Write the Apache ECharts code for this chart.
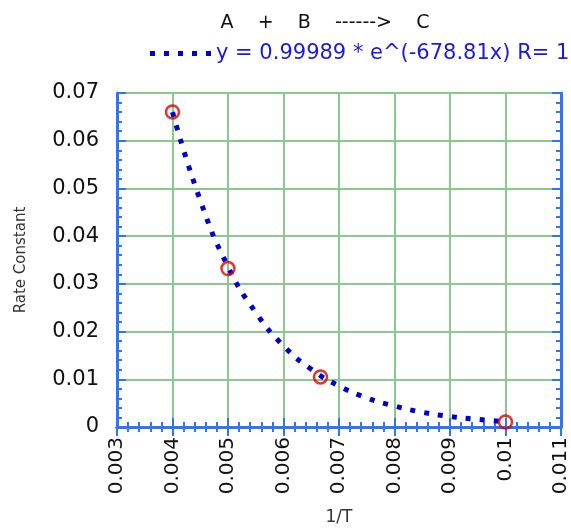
<!DOCTYPE html>
<html>
<head>
<meta charset="utf-8">
<script src="https://cdn.jsdelivr.net/npm/echarts@6/dist/echarts.min.js"></script>
<style>
  html, body { margin: 0; padding: 0; background: #fff; }
  #chart { width: 571px; height: 531px; }
</style>
</head>
<body>
<div id="chart"></div>
<script>
// measured points (1/T, k)
var pointX = [0.004, 0.005, 0.006667, 0.01]
var pointY = [0.066, 0.0332, 0.0105, 0.00105]

// fit curve
var fitX = [0.004, 0.0045, 0.005, 0.0055, 0.006, 0.0065, 0.007, 0.0075, 0.008, 0.0085, 0.009, 0.0095, 0.01]
var fitY = [0.066, 0.0475, 0.0336, 0.024, 0.017, 0.0121, 0.0086, 0.0061, 0.0044, 0.0031, 0.0022, 0.0016, 0.0011]

var fitName = 'y = 0.99989 * e^(-678.81x) R= 1'
var titleText = 'A    +    B    ------>    C'

var axisBlue = '#2f74f5'
var gridGreen = '#8cc78e'
var fitBlue = '#0000cc'
var fontFam = 'DejaVu Sans'

// 5 little squares for the legend swatch
var dotsIcon = 'path://M0,0h5v5h-5z M14,0h5v5h-5z M28,0h5v5h-5z M42,0h5v5h-5z M56,0h5v5h-5z'

function zip(a, b) {
  return a.map(function(v, i) { return [v, b[i]] })
}

var chart = echarts.init(document.getElementById('chart'))

var tickCommon = {
  axisLine: { show: true, lineStyle: { color: axisBlue, width: 3 } },
  axisTick: { show: true, inside: true, length: 9, lineStyle: { color: axisBlue, width: 2 } },
  minorTick: { show: true, splitNumber: 5, length: 5, lineStyle: { color: axisBlue, width: 2 } }
}

chart.setOption({
  animation: false,
  title: {
    text: titleText,
    left: 320,
    top: 9,
    textAlign: 'center',
    textStyle: { fontFamily: fontFam, fontSize: 19, fontWeight: 'normal', color: '#111' }
  },
  legend: {
    data: [{ name: fitName, icon: dotsIcon, itemStyle: { color: fitBlue } }],
    left: 145,
    top: 38,
    itemWidth: 61,
    itemHeight: 5,
    itemGap: 0,
    textStyle: { fontFamily: fontFam, fontSize: 21, color: '#1a1adc', padding: [0, 0, 0, 0] }
  },
  grid: { left: 117, right: 5, top: 93, bottom: 103 },
  xAxis: [
    Object.assign({
      type: 'value',
      min: 0.003,
      max: 0.011,
      interval: 0.001,
      position: 'bottom',
      name: '1/T',
      nameLocation: 'middle',
      nameGap: 82,
      nameTextStyle: { fontFamily: fontFam, fontSize: 17, color: '#333' },
      axisLabel: {
        rotate: 90,
        margin: 10,
        fontFamily: fontFam,
        fontSize: 20,
        color: '#111',
        formatter: function(v) { return String(+v.toFixed(4)) }
      },
      splitLine: { show: true, lineStyle: { color: gridGreen, width: 2 } }
    }, tickCommon),
    Object.assign({
      type: 'value',
      min: 0.003,
      max: 0.011,
      interval: 0.001,
      position: 'top',
      axisLabel: { show: false },
      splitLine: { show: false }
    }, tickCommon)
  ],
  yAxis: [
    Object.assign({
      type: 'value',
      min: 0,
      max: 0.07,
      interval: 0.01,
      position: 'left',
      name: 'Rate Constant',
      nameLocation: 'middle',
      nameGap: 88,
      nameRotate: 90,
      nameTextStyle: { fontFamily: fontFam, fontSize: 15, color: '#333' },
      axisLabel: {
        margin: 18,
        fontFamily: fontFam,
        fontSize: 21,
        color: '#111',
        formatter: function(v) { return String(+v.toFixed(4)) }
      },
      splitLine: { show: true, lineStyle: { color: gridGreen, width: 2 } }
    }, tickCommon),
    Object.assign({
      type: 'value',
      min: 0,
      max: 0.07,
      interval: 0.01,
      position: 'right',
      axisLabel: { show: false },
      splitLine: { show: false }
    }, tickCommon)
  ],
  series: [
    {
      name: fitName,
      type: 'line',
      smooth: true,
      symbol: 'none',
      data: zip(fitX, fitY),
      lineStyle: { color: fitBlue, width: 5, type: [5, 9] },
      itemStyle: { color: fitBlue },
      z: 3
    },
    {
      name: 'points',
      type: 'scatter',
      symbol: 'circle',
      symbolSize: 13,
      data: zip(pointX, pointY),
      itemStyle: { color: 'rgba(0,0,0,0)', borderColor: '#e00000', borderWidth: 2.5 },
      z: 4
    }
  ]
})
</script>
</body>
</html>
